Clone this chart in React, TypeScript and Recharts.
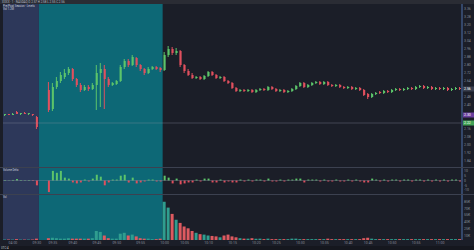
import React from 'react';
import { ComposedChart, Bar, XAxis, YAxis, ReferenceArea, ReferenceLine, Cell } from 'recharts';

// one slot per candle, null = no trade
const opens = [
  2.30, 2.31, 2.30, 2.33, 2.31, 2.32, 2.31, 2.31, 2.28, null,
  null, 2.55, 2.36, 2.58, 2.64, 2.68, 2.72, 2.76, 2.66, 2.60,
  2.55, 2.58, 2.56, 2.60, 2.72, 2.76, 2.66, 2.60, 2.61, 2.64,
  2.78, 2.84, 2.80, 2.87, 2.80, 2.76, 2.72, 2.76, 2.78, 2.77,
  2.75, 2.90, 2.96, 2.92, 2.94, 2.80, 2.74, 2.70, 2.67, 2.68,
  2.66, 2.69, 2.73, 2.70, 2.67, 2.68, 2.64, 2.62, 2.57, 2.54,
  2.55, 2.54, 2.55, 2.53, 2.55, 2.56, 2.55, 2.58, 2.56, 2.54,
  2.55, 2.53, 2.54, 2.56, 2.59, 2.62, 2.58, 2.60, 2.62, 2.63,
  2.61, 2.63, 2.60, 2.59, 2.60, 2.58, 2.57, 2.58, 2.56, 2.57,
  2.55, 2.51, 2.48, 2.51, 2.53, 2.52, 2.54, 2.53, 2.55, 2.56,
  2.55, 2.56, 2.57, 2.56, 2.58, 2.59, 2.57, 2.58, 2.56, 2.57,
  2.56, 2.57, 2.55, 2.56, 2.57,
];
const closes = [
  2.31, 2.30, 2.31, 2.31, 2.32, 2.31, 2.32, 2.30, 2.18, null,
  null, 2.35, 2.58, 2.64, 2.70, 2.72, 2.76, 2.66, 2.60, 2.55,
  2.58, 2.56, 2.60, 2.72, 2.76, 2.66, 2.60, 2.62, 2.64, 2.78,
  2.84, 2.80, 2.88, 2.80, 2.76, 2.72, 2.76, 2.78, 2.76, 2.75,
  2.90, 2.96, 2.92, 2.94, 2.80, 2.74, 2.70, 2.67, 2.68, 2.66,
  2.69, 2.73, 2.70, 2.67, 2.68, 2.64, 2.62, 2.57, 2.54, 2.55,
  2.54, 2.55, 2.53, 2.55, 2.56, 2.55, 2.58, 2.56, 2.54, 2.55,
  2.53, 2.54, 2.56, 2.59, 2.62, 2.58, 2.60, 2.62, 2.63, 2.61,
  2.63, 2.60, 2.59, 2.60, 2.58, 2.57, 2.58, 2.56, 2.57, 2.55,
  2.50, 2.48, 2.51, 2.52, 2.52, 2.54, 2.53, 2.55, 2.56, 2.55,
  2.56, 2.57, 2.56, 2.58, 2.59, 2.57, 2.58, 2.56, 2.57, 2.56,
  2.57, 2.55, 2.56, 2.57, 2.56,
];
const highs = [
  2.31, 2.31, 2.32, 2.34, 2.32, 2.33, 2.32, 2.31, 2.29, null,
  null, 2.63, 2.62, 2.68, 2.73, 2.76, 2.78, 2.77, 2.67, 2.62,
  2.60, 2.60, 2.62, 2.80, 2.82, 2.80, 2.68, 2.63, 2.65, 2.80,
  2.86, 2.86, 2.90, 2.88, 2.81, 2.77, 2.78, 2.79, 2.79, 2.78,
  2.93, 2.99, 2.98, 2.97, 2.95, 2.81, 2.76, 2.72, 2.69, 2.69,
  2.70, 2.74, 2.74, 2.71, 2.69, 2.69, 2.65, 2.63, 2.58, 2.56,
  2.56, 2.56, 2.56, 2.56, 2.57, 2.57, 2.59, 2.59, 2.57, 2.56,
  2.56, 2.55, 2.57, 2.60, 2.63, 2.63, 2.61, 2.63, 2.64, 2.64,
  2.64, 2.64, 2.61, 2.61, 2.61, 2.59, 2.59, 2.59, 2.58, 2.58,
  2.56, 2.52, 2.52, 2.53, 2.54, 2.55, 2.55, 2.56, 2.57, 2.57,
  2.57, 2.58, 2.58, 2.59, 2.60, 2.60, 2.59, 2.59, 2.58, 2.58,
  2.58, 2.58, 2.57, 2.58, 2.58,
];
const lows = [
  2.29, 2.30, 2.30, 2.31, 2.30, 2.31, 2.30, 2.29, 2.16, null,
  null, 2.33, 2.34, 2.56, 2.62, 2.66, 2.70, 2.64, 2.58, 2.53,
  2.54, 2.54, 2.55, 2.35, 2.38, 2.36, 2.58, 2.59, 2.60, 2.63,
  2.76, 2.78, 2.79, 2.78, 2.74, 2.70, 2.71, 2.75, 2.75, 2.73,
  2.74, 2.88, 2.90, 2.90, 2.78, 2.72, 2.69, 2.66, 2.66, 2.65,
  2.65, 2.68, 2.69, 2.66, 2.66, 2.63, 2.61, 2.56, 2.53, 2.53,
  2.53, 2.53, 2.52, 2.52, 2.54, 2.54, 2.54, 2.55, 2.53, 2.53,
  2.52, 2.52, 2.53, 2.55, 2.58, 2.57, 2.57, 2.59, 2.61, 2.60,
  2.60, 2.59, 2.58, 2.58, 2.57, 2.56, 2.56, 2.55, 2.55, 2.54,
  2.49, 2.46, 2.47, 2.50, 2.51, 2.51, 2.52, 2.52, 2.54, 2.54,
  2.54, 2.55, 2.55, 2.55, 2.57, 2.56, 2.56, 2.55, 2.55, 2.55,
  2.55, 2.54, 2.54, 2.55, 2.55,
];
const oscillator = [
  0.5, 0.3, 0.6, 1.5, 0.5, 0.4, 0.5, -0.5, -5, 0,
  0, -12, 10, 8, 10, 3, 2, -2, -3, -2,
  1, -1, 2, 6, 4, -5, -2, 1, 1, 5,
  6, -2, 3, -3, -2, -1, 1, 1, -1, -1,
  5, 3, -3, 2, -4, -3, -2, -2, 1, -1,
  2, 2, -2, -2, 1, -2, -1, -2, -2, 1,
  -1, 1, -1, 1, 1, -1, 2, -1, -1, 1,
  -1, 1, 1, 2, 2, -2, 1, 1, 1, -1,
  1, -1, -1, 1, -1, -1, 1, -1, 1, -1,
  -2, -2, 2, 1, -1, 1, -1, 1, 1, -1,
  1, 1, -1, 1, 1, -1, 1, -1, 1, -1,
  1, -1, 1, 1, -1,
];
const volume = [
  1, 1, 1, 2, 1, 1, 1, 1, 3, 0,
  0, 4, 5, 4, 3, 3, 4, 3, 3, 3,
  3, 3, 4, 20, 18, 10, 4, 3, 3, 14,
  16, 10, 12, 8, 4, 3, 3, 2, 2, 3,
  85, 72, 58, 45, 38, 30, 26, 20, 16, 13,
  12, 10, 9, 8, 6, 10, 12, 8, 6, 4,
  3, 3, 4, 3, 3, 2, 3, 2, 2, 2,
  2, 2, 3, 3, 2, 2, 2, 2, 2, 2,
  2, 3, 2, 2, 2, 2, 2, 2, 2, 2,
  4, 5, 3, 2, 2, 2, 2, 2, 2, 2,
  2, 2, 2, 2, 2, 2, 2, 2, 2, 2,
  2, 2, 2, 2, 2,
];

// ticks that would sit under the price tags are left out
const priceTicks = [3.36, 3.28, 3.2, 3.12, 3.04, 2.96, 2.88, 2.8, 2.72, 2.64, 2.48, 2.4, 2.16, 2.08, 2.0, 1.92, 1.84];
const oscTicks = [-10, -5, 0, 5, 10];
const volTicks = [10, 25, 40, 55, 70, 85];
const timeTickSlots = [2, 8, 12, 17, 23, 28, 34, 40, 45, 51, 57, 63, 68, 74, 80, 86, 91, 97, 103, 109];
const timeTickLabels = ['04:00', '09:30', '09:35', '09:40', '09:45', '09:50', '09:55', '10:00', '10:05', '10:10',
  '10:15', '10:20', '10:25', '10:30', '10:35', '10:40', '10:45', '10:50', '10:55', '11:00'];

const preMarket = [0, 8];
const session = [9, 39];
const keyLevel = 2.22;
const openLevel = 2.30;
const lastPrice = 2.56;

const BG = '#1b1e28';
const UP = '#5cc46a';
const DOWN = '#e0505e';
const VOL_UP = '#2f9d8f';
const VOL_DOWN = '#de5a60';
const AXIS_TEXT = '#858b99';

const rows = opens.map((o, i) => ({
  i, o, c: closes[i], h: highs[i], l: lows[i], osc: oscillator[i], vol: volume[i],
}));

const isUp = (d: any) => d.c != null && d.c >= d.o;

const PriceTag = ({ viewBox, value, fill }: any) => {
  if (!viewBox) return null;
  const x = viewBox.x + viewBox.width + 1;
  return (
    <g>
      <rect x={x} y={viewBox.y - 2.5} width={11} height={5} fill={fill} />
      <text x={x + 1} y={viewBox.y + 1.3} fontSize={3.5} fill="#fff">{value.toFixed(2)}</text>
    </g>
  );
};

const tickStyle = { fontSize: 3.5, fill: AXIS_TEXT, fontFamily: 'Roboto' };
const margin = { top: 0, right: 0, bottom: 0, left: 3 };

export default function App() {
  return (
    <div style={{ position: 'fixed', left: 0, top: 0, width: 474, height: 250, background: BG, overflow: 'hidden', fontFamily: 'Roboto' }}>
      <svg width={474} height={4} style={{ position: 'absolute', left: 0, top: 0, background: '#2a2c34' }}>
        <text x={2} y={3} fontSize={3} fill="#b8bcc6">XXXX · 1 · NASDAQ   O 2.57  H 2.58  L 2.55  C 2.56</text>
      </svg>

      <div style={{ position: 'absolute', left: 0, top: 4 }}>
        <ComposedChart width={474} height={163} data={rows} margin={margin} barCategoryGap={0}>
          <XAxis xAxisId="w" dataKey="i" hide />
          <XAxis xAxisId="b" dataKey="i" hide />
          <YAxis orientation="right" width={12} domain={[1.78, 3.41]} ticks={priceTicks} interval={0}
            tick={tickStyle} tickLine={false} tickSize={1} tickMargin={1}
            axisLine={{ stroke: '#34476a', strokeWidth: 2 }} tickFormatter={(v: number) => v.toFixed(2)} />
          <ReferenceArea xAxisId="w" x1={preMarket[0]} x2={preMarket[1]} fill="#2d385a" fillOpacity={1} />
          <ReferenceArea xAxisId="w" x1={session[0]} x2={session[1]} fill="#0d6876" fillOpacity={1} />
          <ReferenceLine xAxisId="w" y={keyLevel} stroke="#8a90a0" strokeOpacity={0.35}
            label={(p: any) => <PriceTag {...p} value={keyLevel} fill="#43a356" />} />
          <ReferenceLine xAxisId="w" y={openLevel} stroke="none"
            label={(p: any) => <PriceTag {...p} value={openLevel} fill="#6b3f9e" />} />
          <ReferenceLine xAxisId="w" y={lastPrice} stroke="none"
            label={(p: any) => <PriceTag {...p} value={lastPrice} fill="#3a3f4e" />} />
          <Bar xAxisId="w" dataKey={(d: any) => (d.h == null ? null : [d.l, d.h])} barSize={1} isAnimationActive={false}>
            {rows.map((d) => <Cell key={d.i} fill={isUp(d) ? UP : DOWN} />)}
          </Bar>
          <Bar xAxisId="b" dataKey={(d: any) => (d.o == null ? null : [Math.min(d.o, d.c), Math.max(d.o, d.c)])} barSize={2} isAnimationActive={false}>
            {rows.map((d) => <Cell key={d.i} fill={isUp(d) ? UP : DOWN} />)}
          </Bar>
        </ComposedChart>
        <svg width={60} height={10} style={{ position: 'absolute', left: 0, top: 0 }}>
          <text x={3} y={2.5} fontSize={2.8} fill="#c8ccd6">Pre/Post Session · Levels</text>
          <text x={3} y={5.5} fontSize={2.8} fill="#c8ccd6">Vol 1.2M</text>
        </svg>
      </div>

      <div style={{ position: 'absolute', left: 0, top: 167, borderTop: '1px solid #3c4150' }}>
        <ComposedChart width={474} height={26} data={rows} margin={margin} barCategoryGap={0}>
          <XAxis dataKey="i" hide />
          <YAxis orientation="right" width={12} domain={[-14, 13]} ticks={oscTicks} interval={0}
            tick={tickStyle} tickLine={false} tickSize={1} tickMargin={1}
            axisLine={{ stroke: '#34476a', strokeWidth: 2 }} />
          <ReferenceArea x1={preMarket[0]} x2={preMarket[1]} fill="#2d385a" fillOpacity={1} />
          <ReferenceArea x1={session[0]} x2={session[1]} fill="#0d6876" fillOpacity={1} />
          <ReferenceLine y={0} stroke="#8a90a0" strokeOpacity={0.35} />
          <Bar dataKey="osc" barSize={2} isAnimationActive={false}>
            {rows.map((d) => <Cell key={d.i} fill={d.osc >= 0 ? UP : DOWN} />)}
          </Bar>
        </ComposedChart>
        <svg width={40} height={5} style={{ position: 'absolute', left: 0, top: 0 }}>
          <text x={3} y={3} fontSize={2.6} fill="#c8ccd6">Volume Delta</text>
        </svg>
      </div>

      <div style={{ position: 'absolute', left: 0, top: 194, borderTop: '1px solid #3c4150' }}>
        <ComposedChart width={474} height={51} data={rows} margin={margin} barCategoryGap={0}>
          <XAxis dataKey="i" height={6} ticks={timeTickSlots} interval={0} tick={tickStyle}
            tickLine={false} axisLine={false} tickSize={1} tickMargin={1}
            tickFormatter={(v: number) => timeTickLabels[timeTickSlots.indexOf(v)]} />
          <YAxis orientation="right" width={12} domain={[0, 100]} ticks={volTicks} interval={0}
            tick={tickStyle} tickLine={false} tickSize={1} tickMargin={1}
            axisLine={{ stroke: '#34476a', strokeWidth: 2 }} tickFormatter={(v: number) => `${v}K`} />
          <ReferenceArea x1={preMarket[0]} x2={preMarket[1]} fill="#2d385a" fillOpacity={1} />
          <ReferenceArea x1={session[0]} x2={session[1]} fill="#0d6876" fillOpacity={1} />
          <Bar dataKey="vol" barSize={3} isAnimationActive={false}>
            {rows.map((d) => <Cell key={d.i} fill={isUp(d) ? VOL_UP : VOL_DOWN} />)}
          </Bar>
        </ComposedChart>
        <svg width={20} height={5} style={{ position: 'absolute', left: 0, top: 0 }}>
          <text x={3} y={3} fontSize={2.6} fill="#c8ccd6">Vol</text>
        </svg>
      </div>

      <svg width={474} height={4} style={{ position: 'absolute', left: 0, top: 246, background: '#15171e' }}>
        <text x={1} y={3} fontSize={2.8} fill="#d0d3da">UTC-4</text>
      </svg>
    </div>
  );
}
